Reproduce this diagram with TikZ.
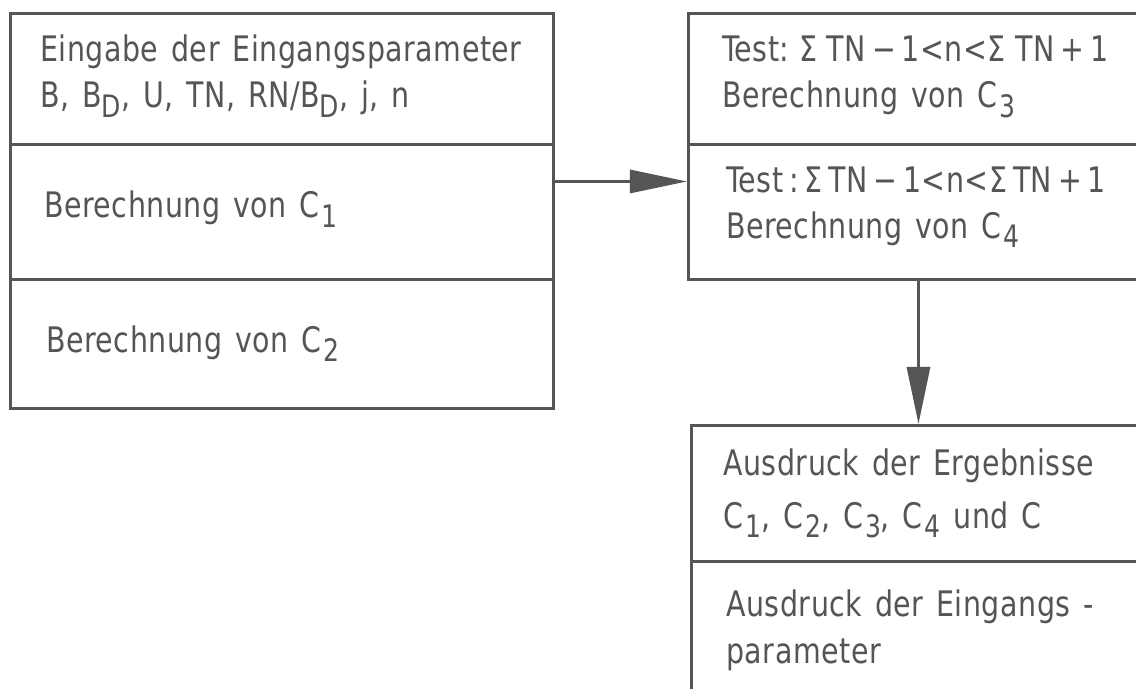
\documentclass[tikz,border=0pt]{standalone}
\usepackage{fontspec}
\newfontfamily\lettering[WordSpace={1.35}, FakeStretch=0.9, LetterSpace=1.5]{DejaVu Sans Condensed}
\usetikzlibrary{arrows.meta}
\newdimen\pu \pu=0.025cm
\definecolor{ink}{HTML}{555555}
\newcommand{\lsub}[1]{\kern1.5pt\raisebox{-0.5ex}{\fontsize{22}{22}\selectfont #1}}
\newcommand{\dsub}[1]{\raisebox{-0.5ex}{\fontsize{22}{22}\selectfont #1}}
\tikzset{
  blk/.style={draw=ink, line width=2.1pt, rectangle, inner sep=0pt, anchor=north west, minimum width=#1},
  txt/.style={anchor=base west, inner sep=0pt, text=ink, font=\lettering\fontsize{25}{25}\selectfont},
  conn/.style={draw=ink, line width=2.1pt, -{Triangle[length=1.425cm, width=0.575cm]}, ink},
}
\begin{document}
\begin{tikzpicture}[x=0.025cm, y=-0.025cm]
\clip (0,0) rectangle (1136,689);
\fill[white] (0,0) rectangle (1136,689);
% left column
\node[blk=543\pu, minimum height=131\pu] (L1) at (9,12) {};
\node[blk=543\pu, minimum height=135\pu] (L2) at (9,143) {};
\node[blk=543\pu, minimum height=129\pu] (L3) at (9,278) {};
% right column
\node[blk=460\pu, minimum height=131\pu] (R1) at (687,12) {};
\node[blk=460\pu, minimum height=135\pu] (R2) at (687,143) {};
% bottom right
\node[blk=460\pu, minimum height=136\pu] (B1) at (690,424) {};
\node[blk=460\pu, minimum height=150\pu] (B2) at (690,560) {};
% texts
\node[txt] (t1) at (40,62) {Eingabe der Eingangsparameter};
\node[txt] (t2) at (40,108) {B, B\dsub{D}, U, TN, RN/B\dsub{D}, j, n};
\node[txt] (t3) at (44,218) {Berechnung von C\lsub{1}};
\node[txt] (t4) at (46,352) {Berechnung von C\lsub{2}};
\node[txt] (t5) at (722,62) {Test:\;Σ\;TN\,−\,1<n<Σ\;TN\,+\,1};
\node[txt] (t6) at (722,108) {Berechnung von C\lsub{3}};
\node[txt] (t7) at (726,192) {Test\,:\,Σ\,TN\,−\,1<n<Σ\,TN\,+\,1};
\node[txt] (t8) at (726,238) {Berechnung von C\lsub{4}};
\node[txt] (t9) at (723,475) {Ausdruck der Ergebnisse};
\node[txt] (t10) at (723,528) {C\lsub{1}, C\lsub{2}, C\lsub{3}, C\lsub{4} und C};
\node[txt] (t11) at (726,616) {Ausdruck der Eingangs -};
\node[txt] (t12) at (726,663) {parameter};
% connectors
\draw[conn] ([yshift=0.7625cm]L2.east) coordinate (a) -- (a -| R2.west);
\draw[conn] (R2.south) -- (R2.south |- B1.north);
\end{tikzpicture}
\end{document}
